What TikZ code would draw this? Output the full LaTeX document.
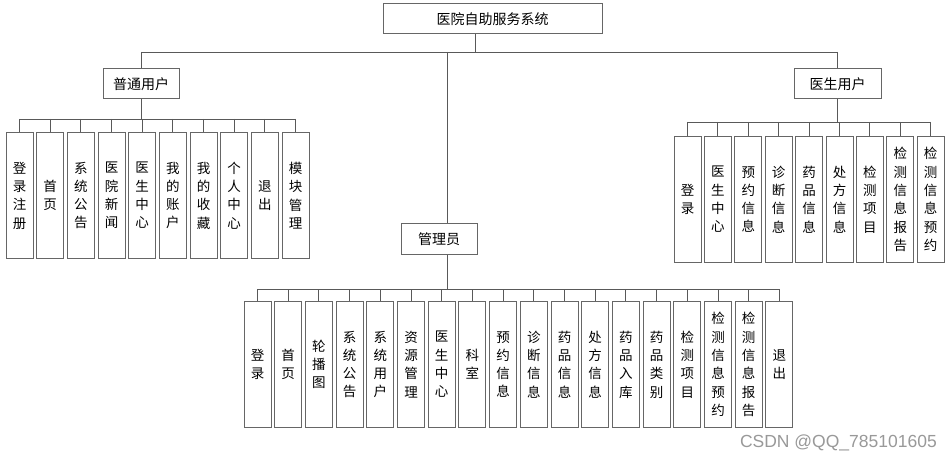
\documentclass[tikz,border=0pt]{standalone}
\usepackage{fontspec}
\setmainfont{Noto Sans CJK SC}
\newfontfamily\wmfont{Liberation Sans}
\begin{document}
\begin{tikzpicture}[x=1pt,y=-1pt,
  boxline/.style={draw=black!60, line width=1pt},
  conn/.style={draw=black!65, line width=0.9pt},
  headbox/.style={boxline, fill=white, inner sep=0pt, font=\fontsize{14}{16}\selectfont},
  leaf/.style={boxline, fill=white, inner sep=0pt, anchor=north, minimum width=27pt, minimum height=126pt, align=center, font=\fontsize{13.5}{18.3}\selectfont}]
\useasboundingbox[fill=white] (0,0) rectangle (952,462);

% header boxes
\node[headbox, minimum width=219pt, minimum height=30pt] (root) at (492.5,19) {医院自助服务系统};
\node[headbox, minimum width=76pt, minimum height=30pt] (user) at (141,84) {普通用户};
\node[headbox, minimum width=87pt, minimum height=30pt] (doc) at (837.5,84) {医生用户};
\node[headbox, minimum width=76pt, minimum height=30pt] (admin) at (439,239) {管理员};

% bus coordinates
\coordinate (mainbus) at (0,52);
\coordinate (rootx) at (475,0);
\coordinate (adminx) at (447.5,0);
\coordinate (ubus) at (0,119);
\coordinate (dbus) at (0,122);
\coordinate (abus) at (0,289);

% leaves: user
\foreach \t [count=\i from 0] in {{登\\录\\注\\册},{首\\页},{系\\统\\公\\告},{医\\院\\新\\闻},{医\\生\\中\\心},{我\\的\\账\\户},{我\\的\\收\\藏},{个\\人\\中\\心},{退\\出},{模\\块\\管\\理}}
  \node[leaf] (u\i) at ({19.5+30.67*\i},132) {\t};

% leaves: doctor
\foreach \t [count=\i from 0] in {{登\\录},{医\\生\\中\\心},{预\\约\\信\\息},{诊\\断\\信\\息},{药\\品\\信\\息},{处\\方\\信\\息},{检\\测\\项\\目},{检\\测\\信\\息\\报\\告},{检\\测\\信\\息\\预\\约}}
  \node[leaf] (d\i) at ({687.5+30.4*\i},136) {\t};

% leaves: admin
\foreach \t [count=\i from 0] in {{登\\录},{首\\页},{轮\\播\\图},{系\\统\\公\\告},{系\\统\\用\\户},{资\\源\\管\\理},{医\\生\\中\\心},{科\\室},{预\\约\\信\\息},{诊\\断\\信\\息},{药\\品\\信\\息},{处\\方\\信\\息},{药\\品\\入\\库},{药\\品\\类\\别},{检\\测\\项\\目},{检\\测\\信\\息\\预\\约},{检\\测\\信\\息\\报\\告},{退\\出}}
  \node[leaf] (a\i) at ({257.5+30.7*\i},301) {\t};

% main connectors
\draw[conn] (rootx |- root.south) -- (rootx |- mainbus);
\draw[conn] (user.north |- mainbus) -- (doc.north |- mainbus);
\draw[conn] (user.north |- mainbus) -- (user.north);
\draw[conn] (doc.north |- mainbus) -- (doc.north);
\draw[conn] (adminx |- mainbus) -- (adminx |- admin.north);

% user group
\draw[conn] (user.south) -- (user.south |- ubus);
\draw[conn] (u0.north |- ubus) -- (u9.north |- ubus);
\foreach \i in {0,...,9} \draw[conn] (u\i.north |- ubus) -- (u\i.north);

% doctor group
\draw[conn] (doc.south) -- (doc.south |- dbus);
\draw[conn] (d0.north |- dbus) -- (d8.north |- dbus);
\foreach \i in {0,...,8} \draw[conn] (d\i.north |- dbus) -- (d\i.north);

% admin group
\draw[conn] (adminx |- admin.south) -- (adminx |- abus);
\draw[conn] (a0.north |- abus) -- (a17.north |- abus);
\foreach \i in {0,...,17} \draw[conn] (a\i.north |- abus) -- (a\i.north);

% watermark
\node[anchor=east, text=black!40, font=\wmfont\fontsize{17.5}{20}\selectfont, inner sep=0pt] (wm) at (937,443) {CSDN @QQ\_785101605};
\end{tikzpicture}
\end{document}
